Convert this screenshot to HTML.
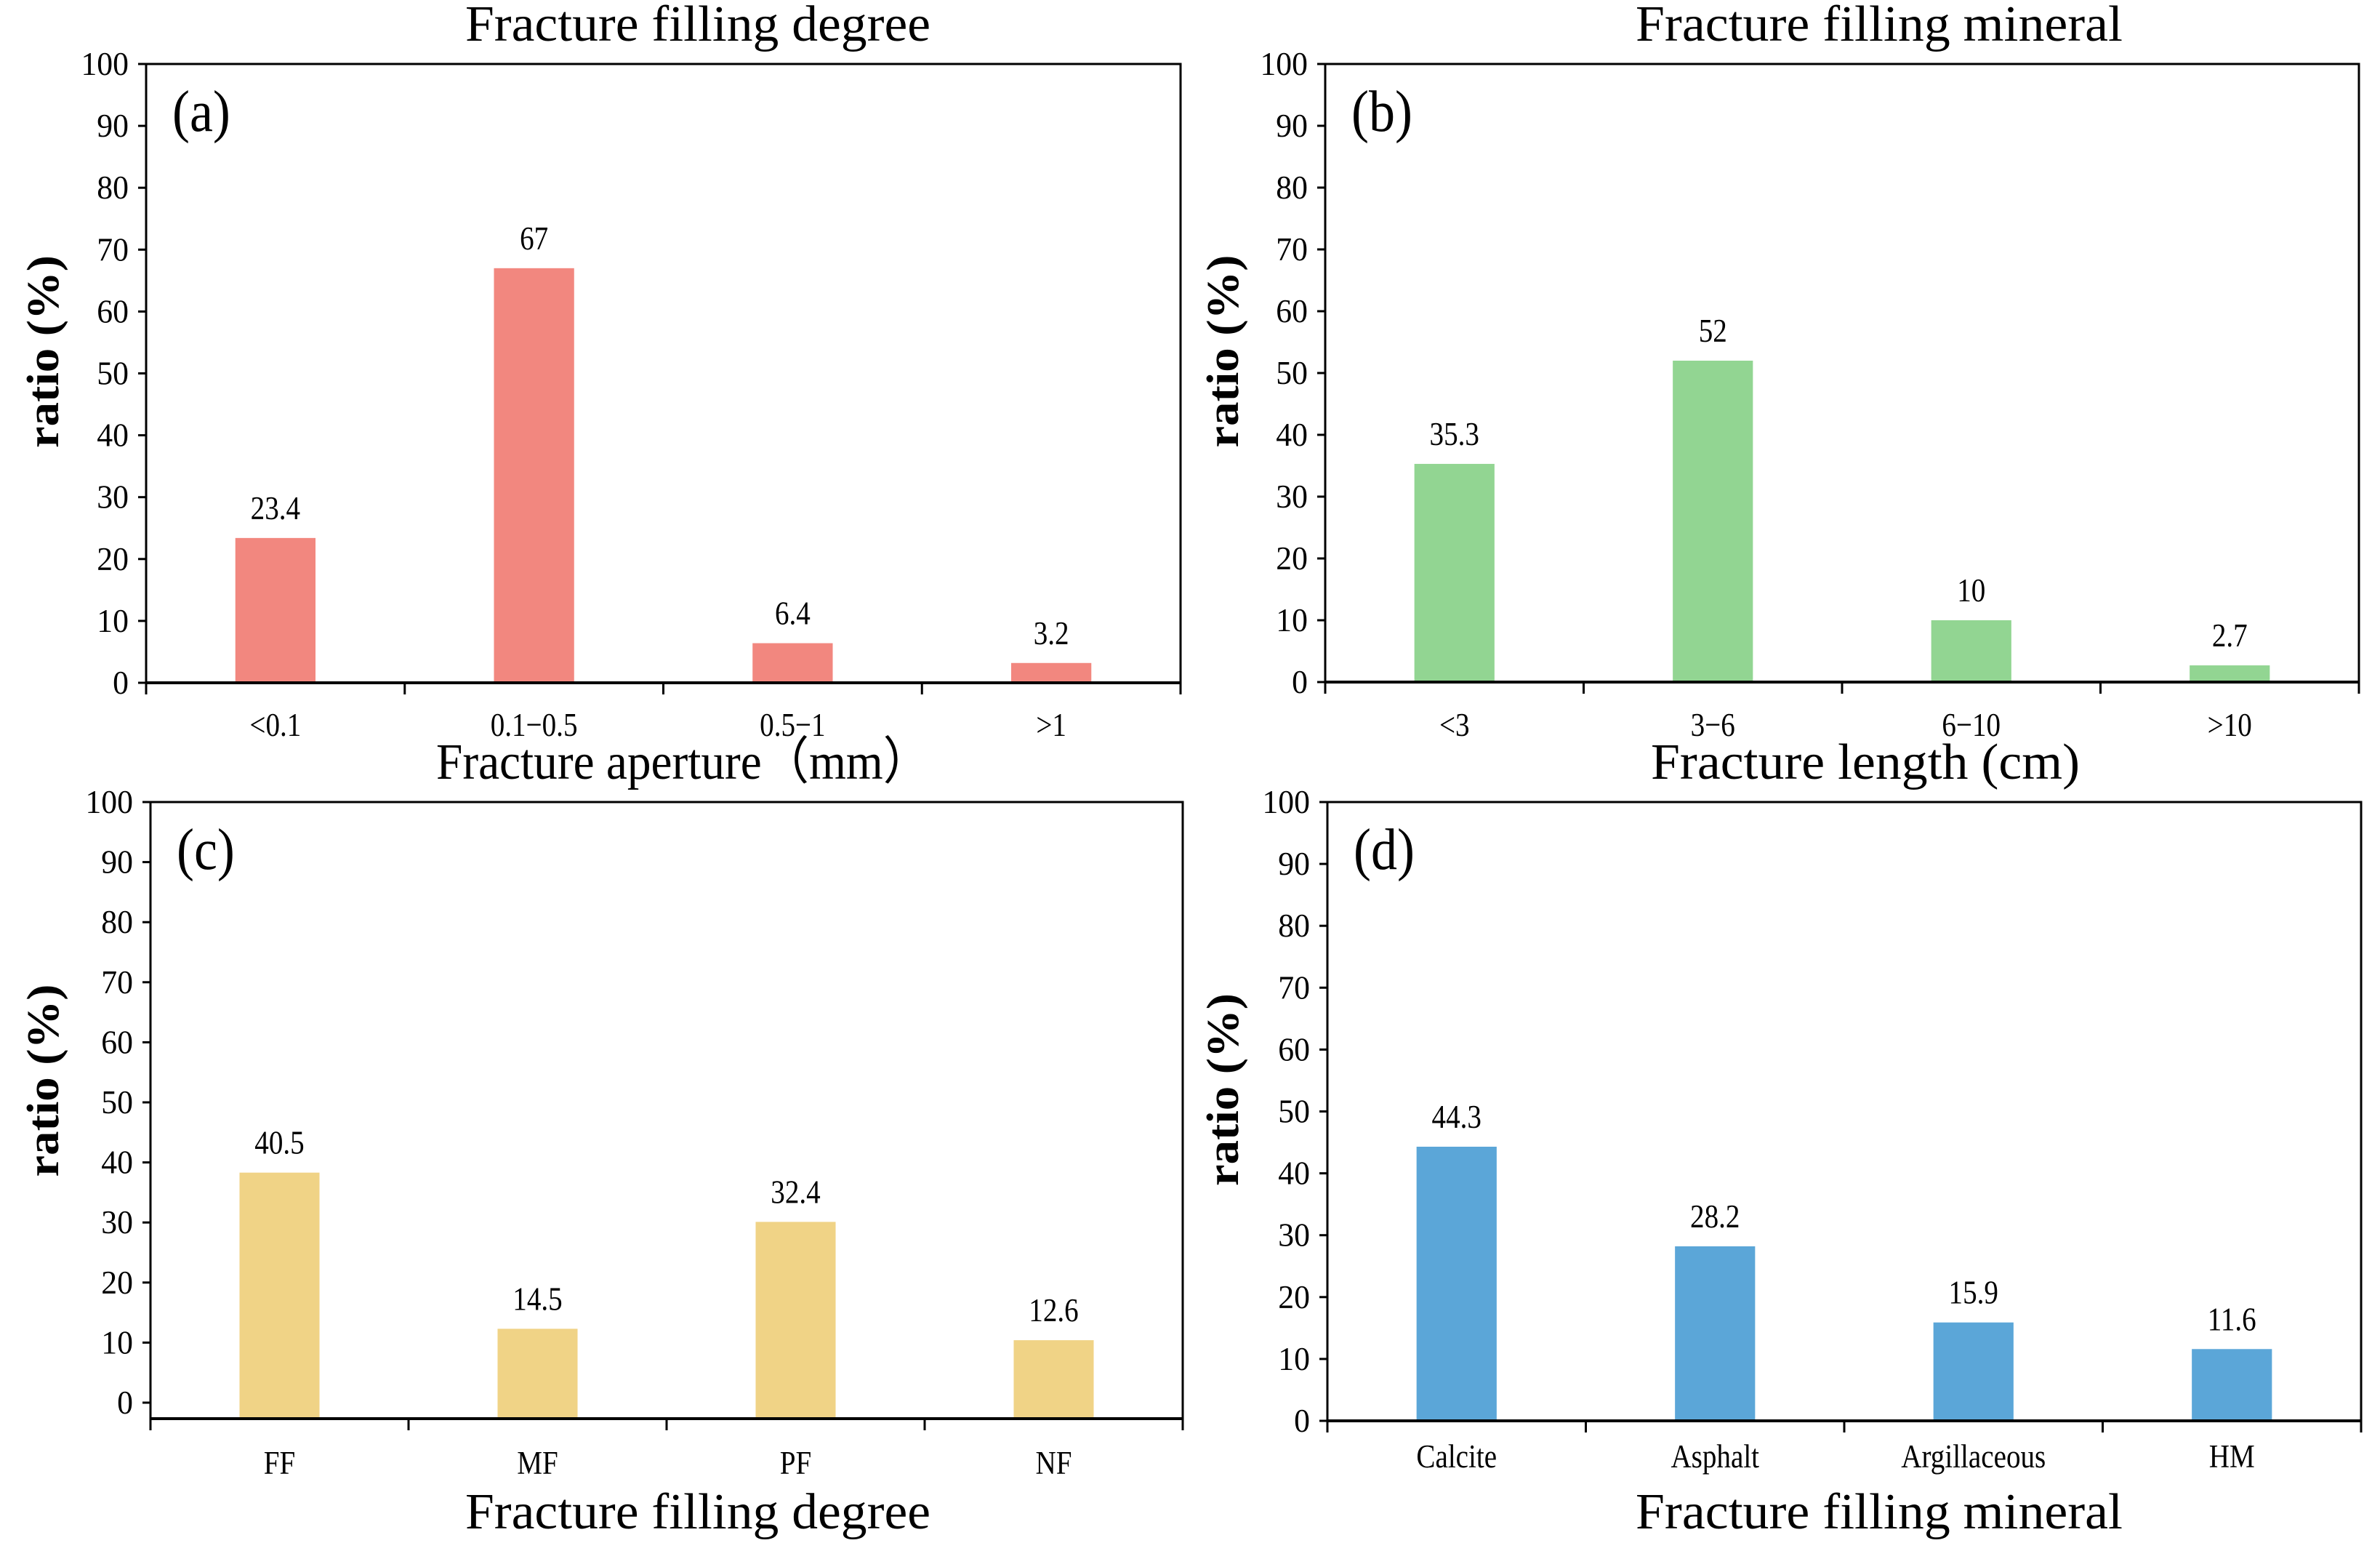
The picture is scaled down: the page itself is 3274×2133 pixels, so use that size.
<!DOCTYPE html>
<html><head><meta charset="utf-8"><style>
html,body{margin:0;padding:0;background:#fff;}
svg{display:block;}
text{font-family:"Liberation Serif",serif;fill:#000;}
</style></head><body>
<svg id="fig" width="3274" height="2133" viewBox="0 0 3274 2133" xmlns="http://www.w3.org/2000/svg"></svg>
<script>
// Panel (a)
const catsA = ["<0.1","0.1\u22120.5","0.5\u22121",">1"];
const valsA = [23.4, 67, 6.4, 3.2];
const labsA = ["23.4","67","6.4","3.2"];
// Panel (b)
const catsB = ["<3","3\u22126","6\u221210",">10"];
const valsB = [35.3, 52, 10, 2.7];
const labsB = ["35.3","52","10","2.7"];
// Panel (c)
const catsC = ["FF","MF","PF","NF"];
const valsC = [38.3, 12.3, 30.1, 10.4];
const labsC = ["40.5","14.5","32.4","12.6"];
// Panel (d)
const catsD = ["Calcite","Asphalt","Argillaceous","HM"];
const valsD = [44.3, 28.2, 15.9, 11.6];
const labsD = ["44.3","28.2","15.9","11.6"];
const yTicks = [0,10,20,30,40,50,60,70,80,90,100];

const NS = "http://www.w3.org/2000/svg";
const svg = document.getElementById('fig');
function mk(tag, attrs, parent){
  const e = document.createElementNS(NS, tag);
  for (const k in attrs) e.setAttribute(k, attrs[k]);
  (parent||svg).appendChild(e);
  return e;
}
function ctext(parent, x, y, size, anchor, sx){
  return mk('text', {x: 0, y: 0, 'font-size': size, 'text-anchor': anchor,
    transform: 'translate(' + x + ' ' + y + ') scale(' + sx + ' 1)'}, parent);
}

const panels = [
  {id:'a', cats:catsA, vals:valsA, labs:labsA, color:'#F2877F', L:201, R:1624, T:88, Y0:939, B:939,
   title:'Fracture filling degree', titleX:960, titleY:56, titleLen:640,
   xt:'Fracture aperture\uff08mm\uff09', xtX:940, xtY:1071, xtLen:680, tickY:1012, ylabX:60},
  {id:'b', cats:catsB, vals:valsB, labs:labsB, color:'#92D592', L:1823, R:3245, T:88, Y0:938, B:938,
   title:'Fracture filling mineral', titleX:2585, titleY:56, titleLen:670,
   xt:'Fracture length (cm)', xtX:2566, xtY:1071, xtLen:590, tickY:1012, ylabX:1683},
  {id:'c', cats:catsC, vals:valsC, labs:labsC, color:'#F0D386', L:207, R:1627, T:1103, Y0:1929, B:1951,
   title:null, xt:'Fracture filling degree', xtX:960, xtY:2102, xtLen:640, tickY:2027, ylabX:60},
  {id:'d', cats:catsD, vals:valsD, labs:labsD, color:'#5BA6D8', L:1826, R:3248, T:1103, Y0:1954, B:1954,
   title:null, xt:'Fracture filling mineral', xtX:2585, xtY:2102, xtLen:670, tickY:2018, ylabX:1683}
];

panels.forEach(p => {
  const g = mk('g', {});
  
  
  const yScale = v => p.Y0 - (p.Y0 - p.T) * v / 100;
  const cw = (p.R - p.L) / p.cats.length;
  const xCenter = i => p.L + cw * (i + 0.5);
  const bw = cw * 0.31;

  p.vals.forEach((v, i) => {
    const top = yScale(v);
    const r = mk('rect', {x: xCenter(i) - bw/2, y: top, width: bw, height: p.B - top, fill: p.color}, g);
    
    
    const t = ctext(g, xCenter(i), top - 26, 46, 'middle', 0.85);
    t.textContent = p.labs[i];
    
    
    const xl = ctext(g, xCenter(i), p.tickY, 46, 'middle', 0.85);
    xl.textContent = p.cats[i];
    
    
  });

  const box = mk('rect', {x: p.L, y: p.T, width: p.R - p.L, height: p.B - p.T, fill: 'none', stroke: '#000', 'stroke-width': 3}, g);
  
  
  mk('line', {x1: p.L, x2: p.R, y1: p.B, y2: p.B, stroke: '#000', 'stroke-width': 4}, g);

  for (let i = 0; i <= p.cats.length; i++) {
    const x = p.L + cw * i;
    mk('line', {x1: x, x2: x, y1: p.B, y2: p.B + 16, stroke: '#000', 'stroke-width': 3}, g);
  }
  yTicks.forEach(v => {
    const y = yScale(v);
    mk('line', {x1: p.L - 11, x2: p.L, y1: y, y2: y, stroke: '#000', 'stroke-width': 3}, g);
    const t = ctext(g, p.L - 24, y + 15, 46, 'end', 0.95);
    t.textContent = v;
    
    
  });

  const pl = ctext(g, p.L + 36, p.T + 92, 80, 'start', 0.9);
  pl.textContent = '(' + p.id + ')';
  
  

  const yc = (p.T + p.Y0) / 2 - 30;
  const yt = mk('text', {x: p.ylabX, y: yc, 'font-size': 62, 'font-weight': 'bold', 'text-anchor': 'middle',
    transform: 'rotate(-90 ' + p.ylabX + ' ' + yc + ')', textLength: 265, lengthAdjust: 'spacingAndGlyphs', dy: 20}, g);
  yt.textContent = 'ratio (%)';
  
  

  const xt = mk('text', {x: p.xtX, y: p.xtY, 'font-size': 70, 'text-anchor': 'middle', textLength: p.xtLen, lengthAdjust: 'spacingAndGlyphs'}, g);
  xt.textContent = p.xt;
  
  

  if (p.title) {
    const tt = mk('text', {x: p.titleX, y: p.titleY, 'font-size': 70, 'text-anchor': 'middle', textLength: p.titleLen, lengthAdjust: 'spacingAndGlyphs'}, g);
    tt.textContent = p.title;
    
    
  }
});
</script>
</body></html>
